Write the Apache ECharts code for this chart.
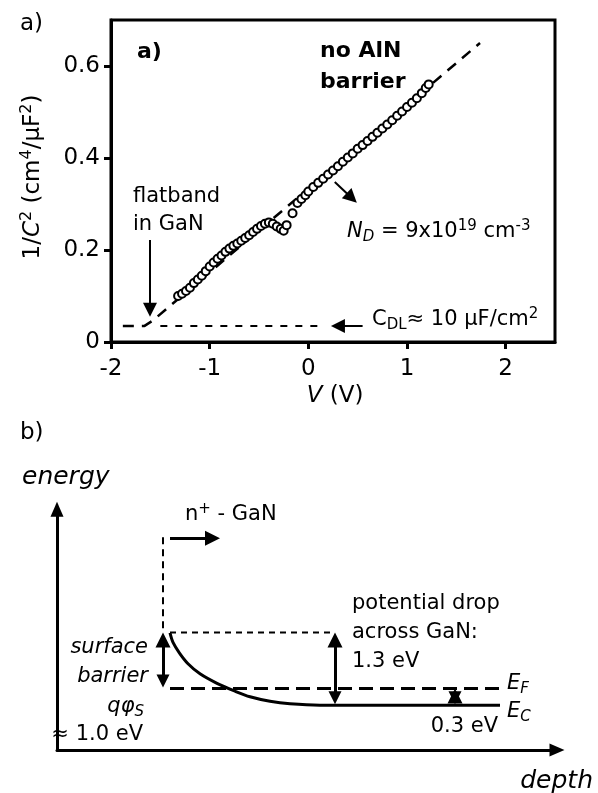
<!DOCTYPE html>
<html><head><meta charset="utf-8">
<script src="https://cdn.jsdelivr.net/npm/echarts@6/dist/echarts.min.js"></script>
<style>html,body{margin:0;padding:0;background:#fff}#c{width:598px;height:793px}</style>
</head><body><div id="c"></div>
<script>
const FONT = 'DejaVu Sans';

// ---- panel a): 1/C^2 vs V ----
const voltage = [-1.32,-1.28,-1.24,-1.20,-1.16,-1.12,-1.08,-1.04,-1.00,-0.96,-0.92,-0.88,-0.84,-0.80,-0.76,-0.72,-0.68,-0.64,-0.60,-0.56,-0.52,-0.48,-0.44,-0.40,-0.36,-0.32,-0.28,-0.25,-0.22,-0.16,-0.11,-0.07,-0.03,0.00,0.05,0.10,0.15,0.20,0.25,0.30,0.35,0.40,0.45,0.50,0.55,0.60,0.65,0.70,0.75,0.80,0.85,0.90,0.95,1.00,1.05,1.10,1.15,1.19,1.22];
const invC2   = [0.100,0.105,0.111,0.118,0.128,0.136,0.144,0.154,0.164,0.173,0.181,0.188,0.196,0.203,0.209,0.214,0.220,0.226,0.232,0.239,0.246,0.252,0.257,0.260,0.257,0.251,0.246,0.242,0.254,0.280,0.302,0.311,0.319,0.327,0.337,0.346,0.355,0.364,0.373,0.382,0.392,0.401,0.410,0.420,0.428,0.437,0.446,0.455,0.464,0.473,0.482,0.492,0.501,0.511,0.520,0.530,0.541,0.552,0.560];
const fitV = [-1.88,-1.66,-1.58,1.74];
const fitY = [0.035,0.035,0.046,0.650];
const cdlV = [-1.50,0.10];
const cdlY = [0.035,0.035];
const xTicksA = [-2,-1,0,1,2];
const yTicksA = [0,0.2,0.4,0.6];
const arrowsA = [
  [[-1.605,0.222],[-1.605,0.070]],   // flatband
  [[0.55,0.035],[0.30,0.035]],       // C_DL
  [[0.268,0.348],[0.44,0.313]]       // N_D
];

// ---- panel b): band diagram (depth units, energy in eV) ----
const bandDepth  = [2.26,2.32,2.45,2.62,2.86,3.20,3.56,3.86,4.26,4.66,5.26,8.86];
const bandEnergy = [1.29,1.12,0.93,0.74,0.56,0.39,0.25,0.15,0.07,0.025,0.00,0.00];
const fermiDepth = [2.26,8.86];
const fermiEnergy = [0.3,0.3];
const surfDepth = [2.26,5.56];
const surfEnergy = [1.3,1.3];
const wallDepth = [2.12,2.12];
const wallEnergy = [3.0,1.3];
const arrowB = [[[2.26,2.98],[3.11,2.98]]];
const doubleArrowsB = [
  [[2.12,0.434],[2.12,1.166]],
  [[5.56,0.134],[5.56,1.166]],
  [[7.96,0.134],[7.96,0.166]]
];

const zip = (a,b) => a.map((v,i)=>[v,b[i]]);
const base = {fontFamily: FONT, fontSize: 21, fill: '#000'};
const rich = {
  i:   {fontFamily: FONT, fontSize: 21, fontStyle: 'italic'},
  b:   {fontFamily: FONT, fontSize: 22, fontWeight: 'bold'},
  sup: {fontFamily: FONT, fontSize: 15, verticalAlign: 'top', lineHeight: 15},
  sub: {fontFamily: FONT, fontSize: 15, verticalAlign: 'bottom', lineHeight: 15},
  isub:{fontFamily: FONT, fontSize: 15, fontStyle: 'italic', verticalAlign: 'bottom', lineHeight: 15},
  ti:  {fontFamily: FONT, fontSize: 23, fontStyle: 'italic'},
  tsup:{fontFamily: FONT, fontSize: 16, verticalAlign: 'top', lineHeight: 16}
};
function T(x, y, text, extra) {
  return {type: 'text', x: x, y: y, z: 100,
    style: Object.assign({text: text, align: 'left', verticalAlign: 'middle', lineHeight: 26, rich: rich}, base, extra || {})};
}

const option = {
  backgroundColor: '#fff',
  animation: false,
  grid: [
    {left: 111, top: 20, width: 444, height: 322, show: true, borderColor: '#000', borderWidth: 3, backgroundColor: 'transparent'},
    {left: 57, top: 509.2, width: 500, height: 240.8, show: false}
  ],
  xAxis: [
    {gridIndex: 0, type: 'value', min: -2, max: 2.5, interval: 1,
      axisLine: {show: true, onZero: false, lineStyle: {color: '#000', width: 3}},
      axisTick: {show: true, inside: false, length: 7, lineStyle: {width: 3, color: '#000'}, customValues: xTicksA},
      axisLabel: {color: '#000', fontFamily: FONT, fontSize: 23, margin: 16, customValues: xTicksA},
      splitLine: {show: false}},
    {gridIndex: 1, type: 'value', min: 0, max: 10,
      axisLine: {show: true, onZero: false, symbol: ['none', 'triangle'], symbolSize: [13, 15], lineStyle: {color: '#000', width: 3}},
      axisTick: {show: false}, axisLabel: {show: false}, splitLine: {show: false}}
  ],
  yAxis: [
    {gridIndex: 0, type: 'value', min: 0, max: 0.7, interval: 0.2,
      axisLine: {show: true, onZero: false, lineStyle: {color: '#000', width: 3}},
      axisTick: {show: true, inside: false, length: 7, lineStyle: {width: 3, color: '#000'}, customValues: yTicksA},
      axisLabel: {color: '#000', fontFamily: FONT, fontSize: 23, margin: 11, customValues: yTicksA},
      splitLine: {show: false}},
    {gridIndex: 1, type: 'value', min: -0.8, max: 3.5,
      axisLine: {show: true, onZero: false, symbol: ['none', 'triangle'], symbolSize: [13, 15], lineStyle: {color: '#000', width: 3}},
      axisTick: {show: false}, axisLabel: {show: false}, splitLine: {show: false}}
  ],
  series: [
    {type: 'line', xAxisIndex: 0, yAxisIndex: 0, data: zip(fitV, fitY), showSymbol: false, symbol: 'none',
      lineStyle: {color: '#000', width: 2.5, type: [11, 8]}, z: 2},
    {type: 'line', xAxisIndex: 0, yAxisIndex: 0, data: zip(cdlV, cdlY), showSymbol: false, symbol: 'none',
      lineStyle: {color: '#000', width: 2, type: [7, 8]}, z: 2},
    {type: 'scatter', xAxisIndex: 0, yAxisIndex: 0, data: zip(voltage, invC2), symbol: 'emptyCircle', symbolSize: 8,
      itemStyle: {color: '#000', borderColor: '#000', borderWidth: 2.5, opacity: 1}, z: 3},
    {type: 'lines', coordinateSystem: 'cartesian2d', xAxisIndex: 0, yAxisIndex: 0, polyline: false,
      data: arrowsA.map(c => ({coords: c})), symbol: ['none', 'triangle'], symbolSize: [12, 14],
      lineStyle: {color: '#000', width: 2, opacity: 1}, z: 4},

    {type: 'line', xAxisIndex: 1, yAxisIndex: 1, data: zip(bandDepth, bandEnergy), showSymbol: false, symbol: 'none',
      smooth: 0.3, lineStyle: {color: '#000', width: 3}},
    {type: 'line', xAxisIndex: 1, yAxisIndex: 1, data: zip(fermiDepth, fermiEnergy), showSymbol: false, symbol: 'none',
      lineStyle: {color: '#000', width: 3, type: [14, 7]}},
    {type: 'line', xAxisIndex: 1, yAxisIndex: 1, data: zip(surfDepth, surfEnergy), showSymbol: false, symbol: 'none',
      lineStyle: {color: '#000', width: 2, type: [6, 5]}},
    {type: 'line', xAxisIndex: 1, yAxisIndex: 1, data: zip(wallDepth, wallEnergy), showSymbol: false, symbol: 'none',
      lineStyle: {color: '#000', width: 2, type: [7, 5]}},
    {type: 'lines', coordinateSystem: 'cartesian2d', xAxisIndex: 1, yAxisIndex: 1,
      data: arrowB.map(c => ({coords: c})), symbol: ['none', 'triangle'], symbolSize: [12, 15],
      lineStyle: {color: '#000', width: 3, opacity: 1}},
    {type: 'lines', coordinateSystem: 'cartesian2d', xAxisIndex: 1, yAxisIndex: 1,
      data: doubleArrowsB.map(c => ({coords: c})), symbol: ['triangle', 'triangle'], symbolSize: [13, 15],
      lineStyle: {color: '#000', width: 3, opacity: 1}}
  ],
  graphic: [
    T(20, 24, 'a)', {fontSize: 23}),
    T(137, 52, '{b|a)}'),
    T(320, 51, '{b|no AlN}'),
    T(320, 82, '{b|barrier}'),
    T(133, 197, 'flatband'),
    T(133, 225, 'in GaN'),
    T(347, 232, '{i|N}{isub|D} = 9x10{sup|19} cm{sup|-3}'),
    T(372, 320, 'C{sub|DL}≈ 10 μF/cm{sup|2}'),
    {type: 'text', x: 33, y: 177, rotation: Math.PI / 2, z: 100,
      style: Object.assign({text: '1/{ti|C}{tsup|2} (cm{tsup|4}/μF{tsup|2})', align: 'center', verticalAlign: 'middle', lineHeight: 28, rich: rich}, base, {fontSize: 23})},
    T(335, 396, '{ti|V} (V)', {align: 'center', fontSize: 23}),

    T(20, 433, 'b)', {fontSize: 23}),
    T(22, 477, 'energy', {fontStyle: 'italic', fontSize: 25}),
    T(185, 515, 'n{sup|+} - GaN'),
    T(352, 604, 'potential drop'),
    T(352, 633, 'across GaN:'),
    T(352, 662, '1.3 eV'),
    T(148, 648, 'surface', {align: 'right', fontStyle: 'italic'}),
    T(148, 677, 'barrier', {align: 'right', fontStyle: 'italic'}),
    T(144, 707, '{i|qφ}{isub|S}', {align: 'right'}),
    T(143, 735, '≈ 1.0 eV', {align: 'right'}),
    T(507, 684, '{i|E}{isub|F}'),
    T(507, 712, '{i|E}{isub|C}'),
    T(498, 727, '0.3 eV', {align: 'right'}),
    T(593, 781, 'depth', {align: 'right', fontStyle: 'italic', fontSize: 25})
  ]
};
const chart = echarts.init(document.getElementById('c'));
chart.setOption(option);
</script></body></html>
